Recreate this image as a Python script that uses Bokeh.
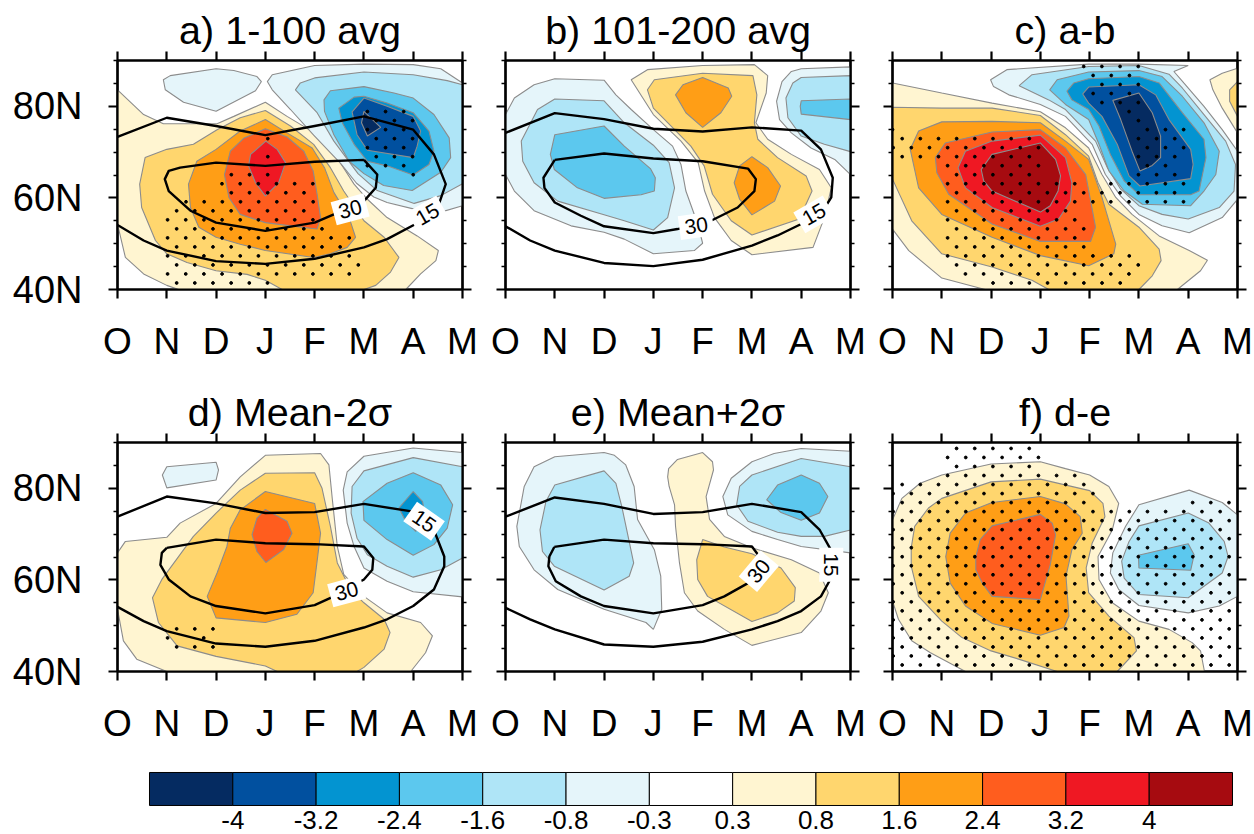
from bokeh.plotting import figure
from bokeh.layouts import column, row
from bokeh.embed import file_html
from bokeh.resources import INLINE
from bokeh.models import Range1d, FixedTicker, LinearAxis
from bokeh.core.properties import value

FONT = "Liberation Sans"
MONTHS = ["O", "N", "D", "J", "F", "M", "A", "M"]
LAT_LABELS = {40: "40N", 60: "60N", 80: "80N"}
LEVELS = ["-4", "-3.2", "-2.4", "-1.6", "-0.8", "-0.3", "0.3", "0.8", "1.6", "2.4", "3.2", "4"]
BAND_COLORS = ["#052B61", "#01509F", "#0394D1", "#5CC8EE", "#AFE5F7", "#E5F5FA", "#FFFFFF",
               "#FFF5D1", "#FFD66E", "#FF9E16", "#FF5D1E", "#EF1823", "#A60B10"]
COLOR = {-4: 0, -3.2: 1, -2.4: 2, -1.6: 3, -0.8: 4, -0.3: 5, 0.3: 7, 0.8: 8, 1.6: 9, 2.4: 10, 3.2: 11, 4: 12}

# Each filled region: (band, [(month index, latitude), ...]) painted outermost first
A_FILLS = [
 (0.3, [(0,83.6),(.53,78.2),(.93,76.2),(2.02,76.2),(2.36,77.8),(3,80.9),(3.44,77.8),(4,74.2),(4.5,68),(4.8,63),(5.07,59.7),(5.47,55.7),(6.08,51.7),(6.51,48.5),(6.46,46.3),(6.15,43.4),(5.85,40),(1.24,40),(1,40.9),(.53,43.4),(.16,47),(0,54.3)]),
 (0.8, [(3,79.1),(3.51,75.7),(3.98,71.7),(4.32,66.6),(4.59,61.5),(5,55),(5.41,51.4),(5.71,47),(5.54,43.8),(5.24,40.9),(5,40),(3.34,40),(3,42),(2.63,43.3),(2,44.1),(1.41,45.9),(1,47.8),(.77,50.7),(.49,57.9),(.45,63),(.56,68.8),(1,70.6),(1.54,71.7),(2.02,74.9),(2.49,77.5)]),
 (1.6, [(3,77.1),(3.44,74.2),(3.95,70.9),(4.2,66.6),(4.39,61.2),(4.7,55.7),(4.83,51.4),(4.66,49.2),(4.32,47.8),(3.98,47),(3,48.5),(2.49,49.9),(2,51.4),(1.65,53.6),(1.48,57.9),(1.44,63),(1.61,68),(2,70.6),(2.49,74.6)]),
 (2.4, [(3,75.1),(3.44,73.3),(3.78,70.2),(3.97,65.9),(4.05,60.8),(4.12,55.7),(4.05,53.2),(3.51,53.9),(3,54.6),(2.49,56.4),(2.26,60.1),(2.17,65.1),(2.29,70.2),(2.56,73)]),
 (3.2, [(3.01,72.4),(3.24,70.6),(3.41,67.7),(3.27,63.3),(3,60.4),(2.8,63.3),(2.66,67),(2.7,69.5)]),
 (-0.3, [(.93,85.8),(1.07,86.7),(2,88.2),(2.36,87.8),(2.83,86.5),(2.92,85.4),(2.8,83.4),(2,78.9),(1.34,80.9),(.97,83.6)]),
 (-0.3, [(3.04,85.4),(3.14,86.9),(4,88.9),(5,89.2),(6,89.1),(6.56,88.2),(7,85.1),(7,58.3),(6.56,56.9),(6,57.6),(5.47,59),(5.2,60.2),(4.85,63.2),(4.53,67.5),(3.98,73.7),(3.51,79.3),(3.14,83.6)]),
 (-0.8, [(3.61,83.6),(3.71,85.1),(4,86.2),(5,87.5),(6,86.9),(6.69,85.6),(7,84.7),(7,63.1),(6.56,60.5),(6.02,58.8),(5.27,61.6),(4.88,65.3),(4.39,72.4),(4.05,78.6)]),
 (-1.6, [(4.19,81.4),(4.32,83.4),(5,84.3),(5.61,82.9),(6,81.8),(6.42,78.2),(6.73,73.1),(6.76,68.8),(6.56,65.6),(5.98,61.6),(5.4,62.7),(5,65.3),(4.7,68),(4.39,73.8),(4.2,78.9)]),
 (-2.4, [(4.49,79.6),(4.8,82),(5,82.2),(5.47,80.7),(6,78.6),(6.32,74.6),(6.42,70.2),(6.32,67.3),(6,65),(5.47,67),(5.07,68),(4.8,71.7),(4.56,76.4)]),
 (-3.2, [(4.76,78.8),(5,81.8),(5.47,80),(6,77.8),(6.15,74.6),(6.08,71.3),(6,68.8),(5.07,70.4),(4.86,73.8)]),
 (-4, [(5,78.9),(5.34,75.4),(5.07,73.5),(4.95,76.4)]),
]
A_LINE15 = [(0,73.3),(1,77.5),(2,75.7),(3,73.7),(4,75.7),(5,77.8),(6,74.9),(6.42,69.5),(6.66,63),(6.52,58.6),(6.05,54.3),(5.47,51),(5,49.2),(4,46.7),(3,45.6),(2,46.2),(1,48.5),(.53,50.7),(0,54.1)]
A_LINE30 = [(5,68.3),(5.27,65.1),(5.24,62.2),(5,59.3),(4.39,56.4),(4,54.6),(3,52.8),(2,54.6),(1.48,57.2),(1.04,61.5),(.96,64.1),(1.04,65.9),(1.27,66.6),(2,67.7),(3,67),(4,67.9),(5,68.3)]
A_TAGS = [("30",4.72,57.5,15),("15",6.29,56.4,30)]
A_STIP = [(5,5.07,3),(6,5.25,3),(7,5.07,3),(8,5.25,3),(8,3.05,1),(9,5.07,3),(10,5.25,3),(10,3.05,1),(11,5.07,3),(12,2.31,3),(12,6.0,1),(13,2.12,6),(14,2.31,5),(15,1.39,8),(16,1.2,8),(17,1.016,9),(18,1.2,9),(19,1.016,11),(20,1.2,10),(21,1.016,11),(22,1.2,11),(23,1.016,11),(24,1.2,6)]

B_FILLS = [
 (-0.3, [(1,86),(2,85.7),(2.24,82.5),(2.55,79.3),(3,74.9),(3.39,71.3),(3.56,67.3),(3.66,61.5),(3.9,54.3),(4,50.1),(3.83,48.5),(3,47.8),(2.41,51),(2,52.5),(1.33,53.9),(.58,57.2),(.18,61.5),(0,65.1),(0,78.2),(.18,81.8),(.58,84.7)]),
 (-0.8, [(1,81.6),(2,81.2),(2.41,76.4),(3,71.5),(3.32,67.7),(3.43,62.2),(3.29,55.7),(3,53),(2.41,55),(2,56.3),(1.06,59.3),(.58,63.3),(.35,68),(.32,72.4),(.65,79.3)]),
 (-1.6, [(1,73.8),(2,75.7),(2.41,71.3),(2.94,66.4),(3.04,64.4),(3.02,61.5),(2.75,60.7),(2,59.9),(1.46,62.2),(.99,66.2),(.91,69.5)]),
 (0.3, [(2.55,85.8),(2.88,88),(4,88.9),(5.05,89.1),(5.32,86.7),(5.29,82.9),(5.08,76.4),(5.32,72.8),(5.8,69.5),(6.37,66.2),(6.61,62.2),(6.47,55.7),(6.24,49.2),(5,47.6),(4.58,50.7),(4.24,55.7),(4.04,61.5),(3.91,67.7),(3.56,72.4),(3,78.2)]),
 (0.8, [(2.88,83.6),(3.02,85.8),(4,87.2),(5.02,86.7),(5.1,82.5),(5.05,76.4),(5.12,72.8),(5.52,68.8),(6.1,64.8),(6.22,61.5),(5.96,55.4),(5,51.9),(4.58,55),(4.2,60.8),(4.03,67),(3.76,71.3),(3,79.6)]),
 (1.6, [(3.45,82.5),(3.6,84.7),(4,86.3),(4.52,84),(4.59,82.2),(4.37,78.6),(4,75.4),(3.66,78.6)]),
 (1.6, [(5,69),(5.32,66.6),(5.58,62.6),(5.46,59.3),(5,56.3),(4.75,59.7),(4.64,63.3),(4.75,67)]),
 (-0.3, [(7,88.6),(6,88.2),(5.8,87.6),(5.61,85.4),(5.5,81.1),(5.56,77.1),(5.8,74.2),(6.2,70.9),(6.68,68.4),(7,65.1)]),
 (-0.8, [(7,86.7),(6,86.3),(5.83,85.1),(5.69,81.8),(5.73,77.5),(6,73.5),(6.47,71.7),(7,70.1)]),
 (-1.6, [(6,81.2),(7,81.6),(7,77.1),(6,78.3),(5.98,80)]),
]
B_LINE15 = [(0,74.2),(1,78.5),(2,77.2),(3,75.1),(4,74.5),(5,75.4),(6,74.7),(6.4,70.6),(6.64,64.4),(6.61,60.1),(6.4,56.5),(6,54.3),(5.52,51.8),(5,49.6),(4,46.5),(3,45.1),(2,45.8),(1,48.5),(.5,50.7),(0,53.8)]
B_LINE30 = [(1,68.3),(2,69.7),(3,68.6),(4,68),(4.92,66.4),(5.08,64.1),(5.05,61.5),(4.71,57.9),(4.17,55),(3.49,53.2),(3,52.3),(2,53.8),(1.53,56.1),(1,59),(.79,62.2),(.77,64.4),(1,68.3)]
B_TAGS = [("30",3.87,53.9,8),("15",6.26,56.4,30)]
B_STIP = []

C_FILLS = [
 (0.3, [(0,85.1),(1,82.9),(2.02,80.7),(3,78.8),(3.51,75.3),(3.98,70.9),(4.25,65.1),(4.53,60.1),(4.86,56.4),(5.41,51.7),(6.02,48.5),(6.39,46.4),(6.25,44.1),(5.78,40),(1.88,40),(1,42.5),(.33,48.5),(0,53.2)]),
 (0.8, [(0,79.8),(1,79.6),(2.02,79.6),(3,78),(3.51,73.8),(3.98,69.1),(4.17,63.3),(4.39,58.6),(5,53.6),(5.41,48.8),(5.45,46.3),(5.27,43),(5,40),(3.17,40),(2.83,42),(2.02,44.9),(1,47.8),(.39,55),(0,64.1)]),
 (1.6, [(.36,70.6),(.53,74.6),(1,76.6),(2.02,76.7),(3,76.4),(3.51,72.4),(3.98,68.4),(4.25,60.1),(4.53,49.9),(4.49,47.8),(3.98,45.2),(3,47.4),(2.02,51.4),(1,56.4),(.53,62.2)]),
 (2.4, [(.87,68.8),(1.07,72),(2.02,74.4),(3,74.9),(3.51,70.9),(3.92,65.1),(4.12,53.6),(4.02,50.5),(3,50.5),(2.02,54.3),(1.14,60.8),(.9,65.5)]),
 (3.2, [(1.33,66.6),(1.48,70.2),(2.02,72.4),(3,73.7),(3.51,68.8),(3.64,63.3),(3.61,59.3),(3.37,55.4),(3,53.8),(2.02,57.9),(1.48,62.2)]),
 (4, [(1.8,66.2),(2.02,69.5),(3,72),(3.31,68.4),(3.41,64.8),(3.36,61.5),(3.2,58.3),(3,56.9),(2.02,61.5),(1.85,63.7)]),
 (-0.3, [(1.99,85.8),(2.32,88),(3.98,89.2),(5,89.2),(6,88.9),(5.71,87.6),(5.91,85.1),(6.32,80),(6.69,74.9),(7,70.2),(7,59.7),(6.69,55.7),(6.02,52.4),(5.47,53.9),(5,56.4),(4.63,60.4),(4.32,65.1),(4.05,71.7),(3.51,77.8),(3,80.4),(2.36,82.5),(2.05,84.3)]),
 (-0.8, [(2.57,84.5),(2.83,86.9),(3.98,88.7),(5,88.9),(5.61,87),(5.88,84),(6.32,78.2),(6.76,72.4),(6.96,67.3),(6.93,61.5),(6.63,57.9),(6,55.4),(5.47,56.4),(5,58.3),(4.63,61.9),(4.36,66.6),(4.12,72.4),(3.51,79.3),(3.17,81.4)]),
 (-1.6, [(3.19,83.6),(3.34,85.8),(3.98,87.5),(5,87.8),(5.47,86.5),(5.88,82.2),(6.32,76.4),(6.63,70.2),(6.56,65.1),(6.32,61.5),(6.05,58.3),(5.07,58.6),(4.7,61.5),(4.39,65.9),(4.19,71.7),(3.98,77.1),(3.51,80.4)]),
 (-2.4, [(3.54,83.3),(3.68,85.1),(3.98,86),(5,86.5),(5.41,85.1),(5.88,78.6),(6.32,72.8),(6.36,68.8),(6.22,61.5),(6.05,60.7),(5,60.7),(4.7,63.7),(4.42,69.5),(4.19,75.7),(3.98,79.3),(3.64,81.4)]),
 (-3.2, [(3.86,82.7),(3.98,84.2),(5,84.7),(5.34,82.5),(5.61,77.1),(6.05,70.6),(6.1,67.3),(6.05,64.2),(5.02,62.6),(4.8,64.8),(4.56,71.7),(4.25,77.8),(3.98,80.7)]),
 (-4, [(4.47,81.3),(5,82.9),(5.27,78.6),(5.44,73.5),(5.44,68.8),(5.27,67.1),(5.02,65.9),(4.86,70.2),(4.63,77.1)]),
 (0.3, [(7,88.3),(6.69,87.2),(6.44,85.8),(6.5,83.6),(6.69,79.6),(7,74.2)]),
 (0.8, [(7,85.4),(6.84,83.6),(6.84,81.1),(7,77.8)]),
]
C_LINE15 = []
C_LINE30 = []
C_TAGS = []
C_STIP = [(0,3.88,4),(1,4.07,3),(2,4.25,3),(3,4.07,3),(4,4.25,3),(5,4.8,1),(6,4.99,1),(7,0,1),(7,5.17,3),(8,.196,8),(8,4.99,3),(9,.013,9),(9,5.17,3),(10,.196,8),(10,4.99,3),(11,1.118,6),(11,5.17,2),(12,1.3,5),(12,4.99,3),(13,1.118,8),(13,4.43,5),(14,1.3,13),(15,1.118,9),(15,4.43,5),(16,1.3,7),(17,1.118,8),(18,1.3,8),(19,1.118,8),(20,1.3,8),(21,1.118,11),(22,1.3,11),(23,1.48,10),(24,2.04,8)]

D_FILLS = [
 (0.3, [(3,87.2),(4.12,87.6),(4.29,85.1),(4.36,77.5),(4.46,67.3),(4.59,61.2),(5,56.4),(5.47,52.8),(6.15,50.7),(6.39,47.8),(6.25,44.1),(5.95,40),(1,40),(.39,42.7),(.12,46.7),(0,53.6),(0,65.9),(.16,68.4),(1,69.3),(1.27,72.4),(2,76.7),(2.49,82.5)]),
 (0.8, [(3,83.3),(4,83.4),(4.15,80),(4.32,71.7),(4.46,63.7),(4.73,57.9),(5,55),(5.41,51.4),(5.53,48.5),(5.41,44.9),(5,40.9),(4.86,40),(3.24,40),(3,41.2),(2,43.3),(1.21,45.6),(.83,50.7),(.71,56.1),(.9,60.1),(1.54,69.5),(2,74.6),(2.49,79.6)]),
 (1.6, [(3,79.3),(4,76.7),(4.12,70.2),(4.05,64.1),(3.97,57.2),(3.64,52.5),(3,50.7),(2,51.7),(1.82,56.4),(2.02,61.5),(2.22,67.3),(2.29,71.3),(2.49,75.3)]),
 (2.4, [(3,75.4),(3.44,72.8),(3.54,70.2),(3.37,66.6),(3.01,63.8),(2.83,66.2),(2.73,69.9),(2.83,73.5)]),
 (-0.3, [(.91,82.9),(1,84.7),(2,85.7),(2.05,84),(2,81.8),(1,80.1)]),
 (-0.3, [(7,87.8),(6,88.8),(5,87),(4.66,83.6),(4.58,79.6),(4.66,72.4),(4.8,67.3),(5,62.6),(5.47,59.7),(6,57.4),(7,56.3)]),
 (-0.8, [(7,84.7),(6,86.7),(5,83.8),(4.76,80.4),(4.74,74.6),(4.86,69.1),(5.07,65.5),(5.47,63),(6,60.6),(6.56,62.2),(7,64.8)]),
 (-1.6, [(6,83.4),(6.56,80.7),(6.8,76.4),(6.69,71.3),(6.42,67.7),(6,65.4),(5.47,68.8),(5,73),(4.98,77.1),(5.47,81.1)]),
 (-2.4, [(6,79.3),(6.19,77.1),(6.26,72.8),(6.05,70.6),(5.85,72.8),(5.71,75.7)]),
]
D_LINE15 = [(0,73.8),(1,78.2),(2,76.7),(3,74.6),(4,74.8),(5,76.6),(6,74.9),(6.42,70.9),(6.63,65.1),(6.63,63),(6.42,57.9),(6,54.3),(5.47,51.4),(5,49.6),(4,46.7),(3,45.4),(2,46.1),(1,48.8),(.53,51),(0,54.1)]
D_LINE30 = [(1,67),(2,68.8),(3,68),(4,67.8),(5,67.3),(5.19,64.8),(5.17,62.2),(5,60.1),(4.39,56.4),(4,54.5),(3,52.7),(2,54.3),(1.48,56.4),(1.04,60.1),(.87,63.3),(.9,65.9),(1,67)]
D_TAGS = [("30",4.65,57.5,15),("15",6.22,72.8,-35)]
D_STIP = [(20,1.2,3),(21,1.016,1),(21,1.75,1),(22,1.2,3)]

E_FILLS = [
 (-0.3, [(1,86.9),(2,87.8),(2.21,87.2),(2.44,85.1),(2.61,80.4),(2.68,73.2),(3.02,66.6),(3.15,60.8),(3.17,53.6),(3,49.2),(2.85,50.7),(2,53.6),(1.06,57.9),(.58,62.2),(.28,67.3),(.23,71.7),(.38,80.4),(.58,84.7)]),
 (-0.8, [(1,80.7),(2,83.8),(2.24,81.1),(2.36,76),(2.48,69.9),(2.6,63.7),(2.51,60.8),(2,57.8),(.99,63),(.75,66.2),(.7,70.9),(.82,77.1)]),
 (0.3, [(3.31,84.3),(3.49,86.3),(4,87.8),(4.2,85.8),(4.22,84),(4.07,78.2),(4.14,73.2),(4.44,69.5),(5,67),(5.8,64.4),(6.37,61.5),(6.55,57.2),(6.4,53.2),(6,48.5),(5,45.7),(4.44,49.2),(3.9,53.2),(3.63,57.2),(3.53,63.7),(3.45,71.7),(3.43,76.4),(3.32,80.4),(3.29,82.5)]),
 (0.8, [(4,68.8),(4.44,67.2),(5,65.7),(5.59,62.6),(5.88,58.3),(5.86,55.4),(5.52,52.8),(5,50.9),(4.1,56.4),(3.9,60.1),(3.88,64.4)]),
 (-0.3, [(7,88.1),(6,88.7),(5.45,87.6),(5,85.8),(4.58,82.2),(4.41,78.2),(4.51,74.2),(5,70.6),(5.52,68.8),(6,67.3),(7,65.9)]),
 (-0.8, [(7,84.7),(6,86.5),(5,82.9),(4.75,80.4),(4.69,76.4),(4.92,72.8),(5.52,70.4),(6,69.5),(6.47,69.5),(7,70.9)]),
 (-1.6, [(6,82.9),(6.37,81.1),(6.54,78.2),(6.37,74.6),(6,73),(5.59,74.7),(5.3,77.5),(5.52,80.7)]),
]
E_LINE15 = [(0,73.8),(1,78),(2,76.6),(3,74.4),(4,74.8),(5,76.6),(6,74.8),(6.37,71),(6.6,66.6),(6.57,59.7),(6.4,56.4),(6,53.2),(5.52,51),(5,49.2),(4,46.5),(3,45.4),(2,45.9),(1,49.2),(.5,51.4),(0,53.9)]
E_LINE30 = [(.99,67.2),(2,68.8),(3,68),(4,67.8),(5,67.3),(5.15,65.1),(4.92,59.3),(4.44,56.4),(4,54.5),(3,52.7),(2,54.3),(1.53,56.4),(1.02,59.7),(.87,63),(.89,65.1),(.99,67.2)]
E_TAGS = [("30",5.14,61.9,50),("15",6.61,63.3,-90)]
E_STIP = []

F_FILLS = [
 (0.3, [(0,73.1),(.19,77.8),(.56,81.1),(1,82.9),(2,85.3),(3,85.8),(3.51,84.3),(4,82.9),(4.39,80.4),(4.59,76.7),(4.46,70.9),(4.17,65.1),(4.19,60.1),(4.46,55),(5,51),(5.61,49.2),(6.08,46.3),(6.25,44.5),(6.33,40),(1.48,40),(.77,44.1),(.39,46.7),(.12,51.4),(0,55.4)]),
 (0.8, [(.38,67),(.45,71.7),(.73,75.7),(1,77.8),(2,81.4),(3,82),(4,79.5),(4.27,76.7),(4.31,73.8),(4.05,68),(3.93,62.6),(3.98,57.2),(4.39,52.1),(4.9,47.4),(4.95,44.5),(4.56,40),(3.34,40),(2.56,42.7),(2,44.5),(1.41,47.4),(1,51),(.53,56.4),(.38,63)]),
 (1.6, [(1.08,65.1),(1.17,70.2),(1.48,74.6),(2.02,76.9),(3,78.2),(3.51,76.6),(3.81,73.8),(3.85,70.2),(3.64,66.6),(3.52,60.8),(3.58,52.1),(3.48,49.6),(3,47.9),(2.02,50.5),(1.48,54.3),(1.17,59.3)]),
 (2.4, [(1.69,65.1),(1.78,68.8),(2.02,71.8),(3,74.3),(3.24,72.4),(3.31,69.9),(3.2,63.3),(3,55.7),(2.02,56.4),(1.82,59.3),(1.69,62.2)]),
 (-0.3, [(5,76.4),(6.02,79.6),(6.69,76.9),(7,74.2),(7,56.4),(6.63,54.3),(6,52.8),(5,54.4),(4.59,57.9),(4.42,61.5),(4.47,65.9),(4.73,71.7)]),
 (-0.8, [(5,71.8),(6,74.6),(6.42,72.4),(6.73,68.4),(6.81,65.1),(6.69,61.5),(6,56.1),(5,56.8),(4.7,60.4),(4.65,64.1),(4.8,68.4)]),
 (-1.6, [(4.99,65.4),(6,67.9),(6.12,65.5),(6.05,62.1),(5,62.6)]),
]
F_LINE15 = []
F_LINE30 = []
F_TAGS = []
F_STIP = [(0,1.3,5),(1,1.118,6),(2,1.3,5),(3,1.118,8),(4,.196,11),(5,.013,12),(6,.196,11),(6,6.09,3),(7,.013,19),(8,.196,19),(9,.013,19),(10,.196,19),(11,.013,19),(12,.196,19),(13,.013,19),(14,.196,19),(15,.013,19),(16,.196,19),(17,.013,19),(18,.196,19),(19,.013,19),(20,.196,19),(21,.013,19),(22,.196,19),(23,.013,19),(24,.196,19)]

STIP_STEP = 0.3686
STIP_ROW0 = 88.7
STIP_ROW_STEP = 1.97


def make_panel(title, fills, line15, line30, tags, stip, width, height, left, right, top, bottom, show_lat):
    p = figure(width=width, height=height, x_range=Range1d(0, 7), y_range=Range1d(40, 90),
               output_backend="svg", toolbar_location=None, x_axis_location=None, y_axis_location=None,
               min_border_left=left, min_border_right=right, min_border_top=top, min_border_bottom=bottom,
               background_fill_color="white", border_fill_color=None, title=title)
    p.title.align = "center"
    p.title.text_font = FONT
    p.title.text_font_size = "39.5px"
    p.title.text_font_style = "normal"
    p.title.text_color = "black"
    p.title.standoff = 0
    p.title.offset = 0
    p.grid.visible = False
    p.outline_line_color = "black"
    p.outline_line_width = 2.2

    for band, pts in fills:
        p.patch([a for a, _ in pts], [b for _, b in pts], fill_color=BAND_COLORS[COLOR[band]],
                line_color="#8c8c8c", line_width=1.1)
    xs, ys = [], []
    for r, x0, n in stip:
        for k in range(n):
            xs.append(x0 + k * STIP_STEP)
            ys.append(STIP_ROW0 - r * STIP_ROW_STEP)
    if xs:
        p.scatter(xs, ys, size=2.8, marker="circle", color="black")
    for ln in (line15, line30):
        if ln:
            p.line([a for a, _ in ln], [b for _, b in ln], line_color="black", line_width=2.4, line_join="round")
    if tags:
        p.rect([t[1] for t in tags], [t[2] for t in tags], width=34, height=24, width_units="screen",
               height_units="screen", angle=[t[3] for t in tags], angle_units="deg",
               fill_color="white", line_color=None)
        p.text([t[1] for t in tags], [t[2] for t in tags], text=[t[0] for t in tags],
               angle=[t[3] for t in tags], angle_units="deg", text_align="center", text_baseline="middle",
               text_font=value(FONT), text_font_size="21px", text_color="black")

    def style(ax, labels, is_lat):
        ax.axis_line_color = "black"
        ax.axis_line_width = 2.2
        ax.major_tick_line_width = 2.2
        ax.major_tick_line_color = "black"
        ax.major_tick_in = 0
        ax.major_tick_out = 9
        if is_lat:
            ax.ticker = FixedTicker(ticks=[40, 60, 80], minor_ticks=[45, 50, 55, 65, 70, 75, 85, 90])
            ax.minor_tick_line_width = 1.6
            ax.minor_tick_line_color = "black"
            ax.minor_tick_in = 0
            ax.minor_tick_out = 4
        else:
            ax.ticker = FixedTicker(ticks=list(range(len(MONTHS))))
            ax.minor_tick_line_color = None
        if labels:
            ax.major_label_overrides = LAT_LABELS if is_lat else dict(enumerate(MONTHS))
            ax.major_label_text_font = FONT
            ax.major_label_text_font_size = "38px" if is_lat else "37px"
            ax.major_label_text_color = "black"
            ax.major_label_standoff = 26 if is_lat else 22
        else:
            ax.major_label_text_color = None
            ax.major_label_text_font_size = "1px"
            ax.major_label_standoff = 0

    for side, labels, is_lat in (("left", show_lat, True), ("right", False, True),
                                 ("below", True, False), ("above", False, False)):
        ax = LinearAxis()
        style(ax, labels, is_lat)
        p.add_layout(ax, side)
    return p


a = make_panel("a) 1-100 avg", A_FILLS, A_LINE15, A_LINE30, A_TAGS, A_STIP, 483, 380, 117, 21, 60, 91, True)
b = make_panel("b) 101-200 avg", B_FILLS, B_LINE15, B_LINE30, B_TAGS, B_STIP, 388, 380, 22, 21, 60, 91, False)
c = make_panel("c) a-b", C_FILLS, C_LINE15, C_LINE30, C_TAGS, C_STIP, 383, 380, 21, 17, 60, 91, False)
d = make_panel("d) Mean-2\u03c3", D_FILLS, D_LINE15, D_LINE30, D_TAGS, D_STIP, 483, 385, 117, 21, 62, 94, True)
e = make_panel("e) Mean+2\u03c3", E_FILLS, E_LINE15, E_LINE30, E_TAGS, E_STIP, 388, 385, 22, 21, 62, 94, False)
f = make_panel("f) d-e", F_FILLS, F_LINE15, F_LINE30, F_TAGS, F_STIP, 383, 385, 21, 17, 62, 94, False)

bar = figure(width=1254, height=69, x_range=Range1d(-1.7885, 13.264), y_range=Range1d(-0.879, 1.212),
             output_backend="svg", toolbar_location=None, x_axis_location=None, y_axis_location=None,
             min_border=0, border_fill_color=None)
bar.grid.visible = False
bar.outline_line_color = None
idx = list(range(len(BAND_COLORS)))
bar.quad(left=idx, right=[i + 1 for i in idx], bottom=0, top=1, fill_color=BAND_COLORS,
         line_color="black", line_width=1)
bar.text([i + 1 for i in range(len(LEVELS))], [-0.45] * len(LEVELS), text=LEVELS, text_align="center",
         text_baseline="middle", text_font=value(FONT), text_font_size="26px", text_color="black")

page = column(row(a, b, c, spacing=0), row(d, e, f, spacing=0), bar, spacing=0)
open("out.html", "w").write(file_html(page, INLINE))
